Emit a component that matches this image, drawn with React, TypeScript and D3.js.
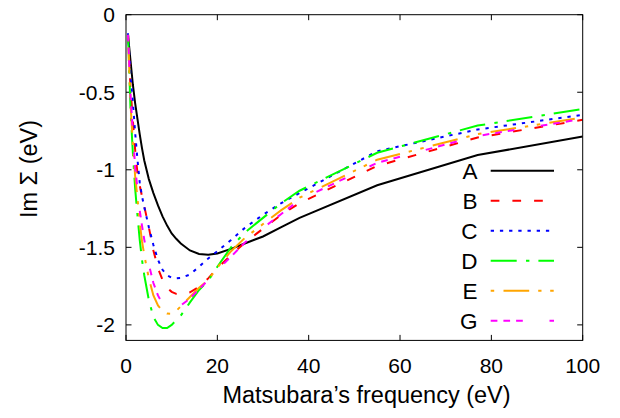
import React from "react";
import * as d3 from "d3";

const freq = [0.44, 1.0, 1.5, 2.0, 2.5, 3.0, 3.5, 4, 5, 6, 7, 8, 9, 10, 11, 12, 14, 16, 18, 20, 23, 26, 30, 34, 38, 55, 77, 100];

const seriesA = [-0.13, -0.30, -0.45, -0.57, -0.67, -0.77, -0.86, -0.94, -1.06, -1.15, -1.23, -1.30, -1.36, -1.41, -1.445, -1.475, -1.52, -1.543, -1.548, -1.54, -1.51, -1.475, -1.43, -1.37, -1.31, -1.10, -0.905, -0.786];
const seriesB = [-0.13, -0.48, -0.68, -0.87, -1.02, -1.10, -1.17, -1.235, -1.37, -1.52, -1.635, -1.71, -1.76, -1.787, -1.80, -1.805, -1.79, -1.755, -1.70, -1.635, -1.55, -1.47, -1.38, -1.29, -1.215, -0.975, -0.792, -0.678];
const seriesC = [-0.12, -0.40, -0.56, -0.76, -0.93, -1.08, -1.17, -1.24, -1.37, -1.485, -1.58, -1.645, -1.68, -1.695, -1.70, -1.698, -1.675, -1.625, -1.572, -1.525, -1.452, -1.375, -1.29, -1.215, -1.15, -0.88, -0.74, -0.646];
const seriesD = [-0.13, -0.62, -0.89, -1.12, -1.29, -1.45, -1.58, -1.68, -1.84, -1.95, -2.0, -2.02, -2.02, -2.0, -1.97, -1.94, -1.855, -1.775, -1.715, -1.625, -1.50, -1.405, -1.31, -1.215, -1.135, -0.89, -0.715, -0.608];
const seriesE = [-0.13, -0.58, -0.83, -1.04, -1.18, -1.34, -1.46, -1.55, -1.70, -1.81, -1.875, -1.91, -1.927, -1.928, -1.91, -1.88, -1.82, -1.76, -1.71, -1.63, -1.525, -1.44, -1.35, -1.26, -1.18, -0.935, -0.77, -0.663];
const seriesG = [-0.13, -0.52, -0.76, -0.98, -1.12, -1.26, -1.36, -1.45, -1.61, -1.73, -1.81, -1.865, -1.885, -1.89, -1.885, -1.875, -1.83, -1.77, -1.71, -1.645, -1.56, -1.47, -1.375, -1.285, -1.195, -0.955, -0.782, -0.672];

const labels = ["A", "B", "C", "D", "E", "G"];
const colors = ["#000000", "#ff0000", "#0000ff", "#00ff00", "#ffa500", "#ff00ff"];
const dashes = ["", "8.7,13", "3.3,5.9", "26,9.3,3.4,9", "3.5,9.3,25.7,9,3.3,8.7", "6.7,6,6.7,6,6.7,26.7"];

const xTicks = [0, 20, 40, 60, 80, 100];
const yTicks = [0, -0.5, -1, -1.5, -2];
const yTickLabels = ["0", "-0.5", "-1", "-1.5", "-2"];

const xTitle = "Matsubara\u2019s frequency (eV)";
const yTitle = "Im \u03A3 (eV)";

const allSeries = [seriesA, seriesB, seriesC, seriesD, seriesE, seriesG];

export default function App() {
  const W = 620, H = 418;
  const left = 126, right = 582.7, top = 14.7, bottom = 340.4;
  const x = d3.scaleLinear().domain([0, 100]).range([left, right]);
  const y = d3.scaleLinear().domain([-2.1, 0]).range([bottom, top]);
  const line = d3.line<number>().x((_, i) => x(freq[i])).y((d) => y(d)).curve(d3.curveLinear);
  const font = "'Liberation Sans', Arial, Helvetica, sans-serif";
  const fs = 21;
  const fsTitle = 23.5;
  const fsLeg = 22.5;
  const tick = 5.5;
  const legX0 = 490.7, legX1 = 554, legTextX = 477.5, legY0 = 170.7, legDy = 30;

  return (
    <svg width={W} height={H} style={{ position: "absolute", left: 0, top: 0, background: "#fff" }} fontFamily={font}>
      <rect x={0} y={0} width={W} height={H} fill="#fff" />
      <defs>
        <clipPath id="plotclip">
          <rect x={left} y={top} width={right - left} height={bottom - top} />
        </clipPath>
      </defs>
      {xTicks.map((t) => (
        <g key={"xt" + t}>
          <line x1={x(t)} x2={x(t)} y1={bottom} y2={bottom - tick} stroke="#000" strokeWidth={1} />
          <line x1={x(t)} x2={x(t)} y1={top} y2={top + tick} stroke="#000" strokeWidth={1} />
          <text x={x(t)} y={373} textAnchor="middle" fontSize={fs} fill="#000">{t}</text>
        </g>
      ))}
      {yTicks.map((t, i) => (
        <g key={"yt" + t}>
          <line x1={left} x2={left + tick} y1={y(t)} y2={y(t)} stroke="#000" strokeWidth={1} />
          <line x1={right} x2={right - tick} y1={y(t)} y2={y(t)} stroke="#000" strokeWidth={1} />
          <text x={115} y={y(t)} dy="0.36em" textAnchor="end" fontSize={fs} fill="#000">{yTickLabels[i]}</text>
        </g>
      ))}
      <g clipPath="url(#plotclip)">
        {allSeries.map((s, i) => (
          <path key={labels[i]} d={line(s) || ""} fill="none" stroke={colors[i]} strokeWidth={2}
            strokeDasharray={dashes[i] || undefined} />
        ))}
      </g>
      {labels.map((l, i) => (
        <g key={"lg" + l}>
          <text x={legTextX} y={legY0 + i * legDy} dy="0.36em" textAnchor="end" fontSize={fsLeg} fill="#000">{l}</text>
          <line x1={legX0} x2={legX1} y1={legY0 + i * legDy} y2={legY0 + i * legDy} stroke={colors[i]} strokeWidth={2}
            strokeDasharray={dashes[i] || undefined} />
        </g>
      ))}
      <rect x={left} y={top} width={right - left} height={bottom - top} fill="none" stroke="#000" strokeWidth={1} />
      <text x={366.5} y={403} textAnchor="middle" fontSize={fsTitle} fill="#000">{xTitle}</text>
      <text transform="translate(37,169) rotate(-90)" textAnchor="middle" fontSize={fsTitle} fill="#000">{yTitle}</text>
    </svg>
  );
}
